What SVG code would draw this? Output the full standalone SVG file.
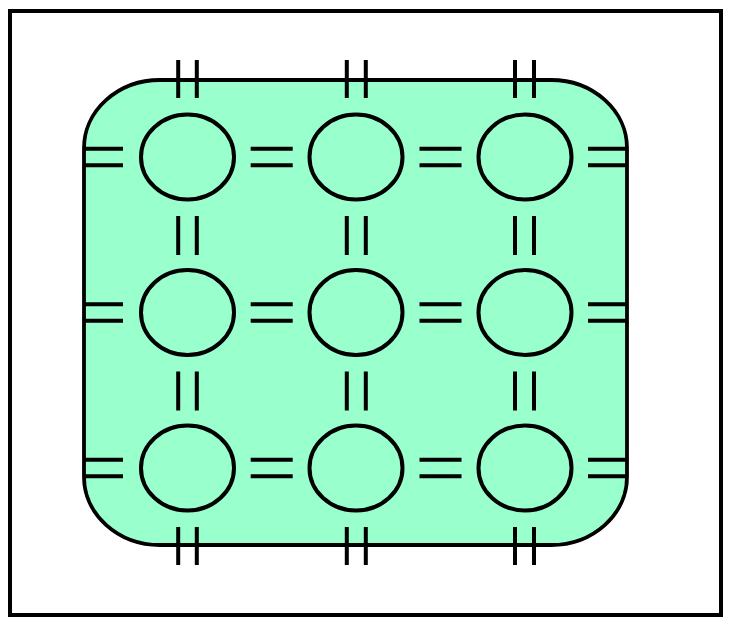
<svg xmlns="http://www.w3.org/2000/svg" width="746" height="627" viewBox="0 0 746 627">
<style>
.frame{fill:#ffffff;stroke:#000;stroke-width:4}
.board{fill:#99ffcc;stroke:#000;stroke-width:3.8}
.node{fill:#99ffcc;stroke:#000;stroke-width:4}
.bar{stroke:#000;stroke-width:4;fill:none}
</style>
<rect width="746" height="627" fill="#ffffff"/>
<rect class="frame" x="10" y="11" width="711" height="604"/>
<rect id="board" class="board" x="84" y="80" width="543" height="465" rx="76" ry="68"/>
<g id="connectors">
<path class="bar" d="M84 148.7H123M84 165.3H123M250.7 148.7H292.7M250.7 165.3H292.7M419.5 148.7H461.5M419.5 165.3H461.5M588 148.7H627M588 165.3H627"/>
<path class="bar" d="M84 304.2H123M84 320.8H123M250.7 304.2H292.7M250.7 320.8H292.7M419.5 304.2H461.5M419.5 320.8H461.5M588 304.2H627M588 320.8H627"/>
<path class="bar" d="M84 459.7H123M84 476.3H123M250.7 459.7H292.7M250.7 476.3H292.7M419.5 459.7H461.5M419.5 476.3H461.5M588 459.7H627M588 476.3H627"/>
<path class="bar" d="M178.2 60V98M196.8 60V98M178.2 216V255M196.8 216V255M178.2 371.5V410.5M196.8 371.5V410.5M178.2 527V565M196.8 527V565"/>
<path class="bar" d="M346.8 60V98M365.8 60V98M346.8 216V255M365.8 216V255M346.8 371.5V410.5M365.8 371.5V410.5M346.8 527V565M365.8 527V565"/>
<path class="bar" d="M515 60V98M534 60V98M515 216V255M534 216V255M515 371.5V410.5M534 371.5V410.5M515 527V565M534 527V565"/>
</g>
<g id="n11"><ellipse class="node" cx="187.5" cy="157" rx="46.5" ry="42.5"/></g>
<g id="n12"><ellipse class="node" cx="356" cy="157" rx="46.5" ry="42.5"/></g>
<g id="n13"><ellipse class="node" cx="525" cy="157" rx="46.5" ry="42.5"/></g>
<g id="n21"><ellipse class="node" cx="187.5" cy="312.5" rx="46.5" ry="42.5"/></g>
<g id="n22"><ellipse class="node" cx="356" cy="312.5" rx="46.5" ry="42.5"/></g>
<g id="n23"><ellipse class="node" cx="525" cy="312.5" rx="46.5" ry="42.5"/></g>
<g id="n31"><ellipse class="node" cx="187.5" cy="468" rx="46.5" ry="42.5"/></g>
<g id="n32"><ellipse class="node" cx="356" cy="468" rx="46.5" ry="42.5"/></g>
<g id="n33"><ellipse class="node" cx="525" cy="468" rx="46.5" ry="42.5"/></g>
</svg>
